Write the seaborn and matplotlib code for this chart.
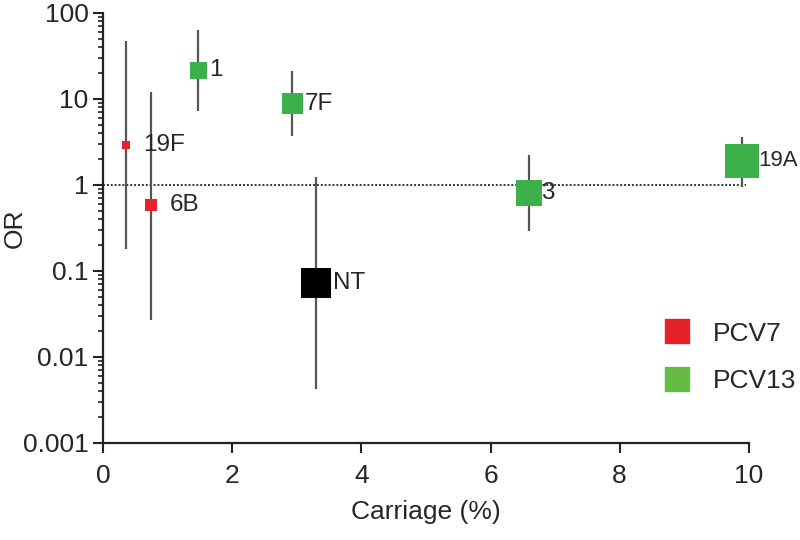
import matplotlib
matplotlib.use("Agg")
import matplotlib.pyplot as plt
from matplotlib.lines import Line2D
from matplotlib.ticker import LogLocator, NullFormatter, FixedLocator
import seaborn as sns
import pandas as pd

# serotype data
serotypes = ["19F", "6B", "1", "7F", "NT", "3", "19A"]
vaccine = ["PCV7", "PCV7", "PCV13", "PCV13", "NT", "PCV13", "PCV13"]
carriage = [0.36, 0.74, 1.47, 2.93, 3.30, 6.60, 9.90]
odds_ratio = [2.9, 0.58, 21.5, 8.8, 0.073, 0.80, 1.9]
ci_low = [0.18, 0.027, 7.2, 3.7, 0.0042, 0.29, 0.95]
ci_high = [47, 12, 63, 21, 1.24, 2.2, 3.6]
# relative marker weight (square area)
weight = [64, 144, 289, 441, 900, 676, 1156]

colors = {"PCV7": "#e62129", "PCV13": "#3cb049", "NT": "#000000"}

df = pd.DataFrame({"serotype": serotypes, "vaccine": vaccine, "carriage": carriage,
                   "OR": odds_ratio, "lo": ci_low, "hi": ci_high, "w": weight})

sns.set_style("ticks")
plt.rcParams["font.family"] = ["Liberation Sans", "DejaVu Sans"]

fig = plt.figure(figsize=(8, 5.4), dpi=100)
ax = fig.add_axes([0.129, 0.180, 0.807, 0.796])

ax.axhline(1, xmin=0, xmax=0.995, color="#333333", lw=1.4, ls=(0, (1, 1)), zorder=1)
ax.vlines(df["carriage"], df["lo"], df["hi"], color="#555555", lw=1.6, zorder=2)

sns.scatterplot(data=df, x="carriage", y="OR", hue="vaccine", palette=colors,
                size="w", sizes=(33, 600), size_norm=(64, 1156),
                marker="s", linewidth=0, legend=False, ax=ax, zorder=3, clip_on=False)

for _, r in df.iterrows():
    side_pt = (r["w"] ** 0.5) * 0.72
    if r["serotype"] in ("19F", "6B"):
        gap = 9
    elif r["serotype"] in ("3", "19A"):
        gap = -1
    else:
        gap = 1.5
    fs = 16 if r["serotype"] == "19A" else 17.5
    ax.annotate(r["serotype"], (r["carriage"], r["OR"]), xytext=(side_pt / 2 + gap, 0),
                textcoords="offset points", va="center", ha="left", fontsize=fs)

ax.set_yscale("log")
ax.set_ylim(0.001, 100)
ax.set_xlim(0, 10)
ax.set_xticks([0, 2, 4, 6, 8, 10])
ax.yaxis.set_major_locator(FixedLocator([0.001, 0.01, 0.1, 1, 10, 100]))
ax.set_yticklabels(["0.001", "0.01", "0.1", "1", "10", "100"])
ax.yaxis.set_minor_locator(LogLocator(base=10, subs=range(2, 10)))
ax.yaxis.set_minor_formatter(NullFormatter())

ax.set_xlabel("Carriage (%)", fontsize=19, labelpad=9)
ax.set_ylabel("OR", fontsize=19)
ax.yaxis.set_label_coords(-0.118, 0.5)
ax.tick_params(axis="both", which="major", labelsize=19, width=1.5, length=7, color="#222222")
ax.tick_params(axis="x", which="major", pad=8)
ax.tick_params(axis="y", which="minor", width=1.2, length=3.5, color="#222222")
sns.despine(ax=ax)
for s in ("left", "bottom"):
    ax.spines[s].set_linewidth(1.6)
    ax.spines[s].set_color("#222222")

handles = [Line2D([], [], marker="s", ls="", color="#e62129", markersize=17, label="PCV7"),
           Line2D([], [], marker="s", ls="", color="#66bb45", markersize=17, label="PCV13")]
ax.legend(handles=handles, loc="lower right", bbox_to_anchor=(1.11, 0.06), frameon=False,
          fontsize=19, handletextpad=0.35, labelspacing=0.9)

fig.savefig("out.png", dpi=100)
